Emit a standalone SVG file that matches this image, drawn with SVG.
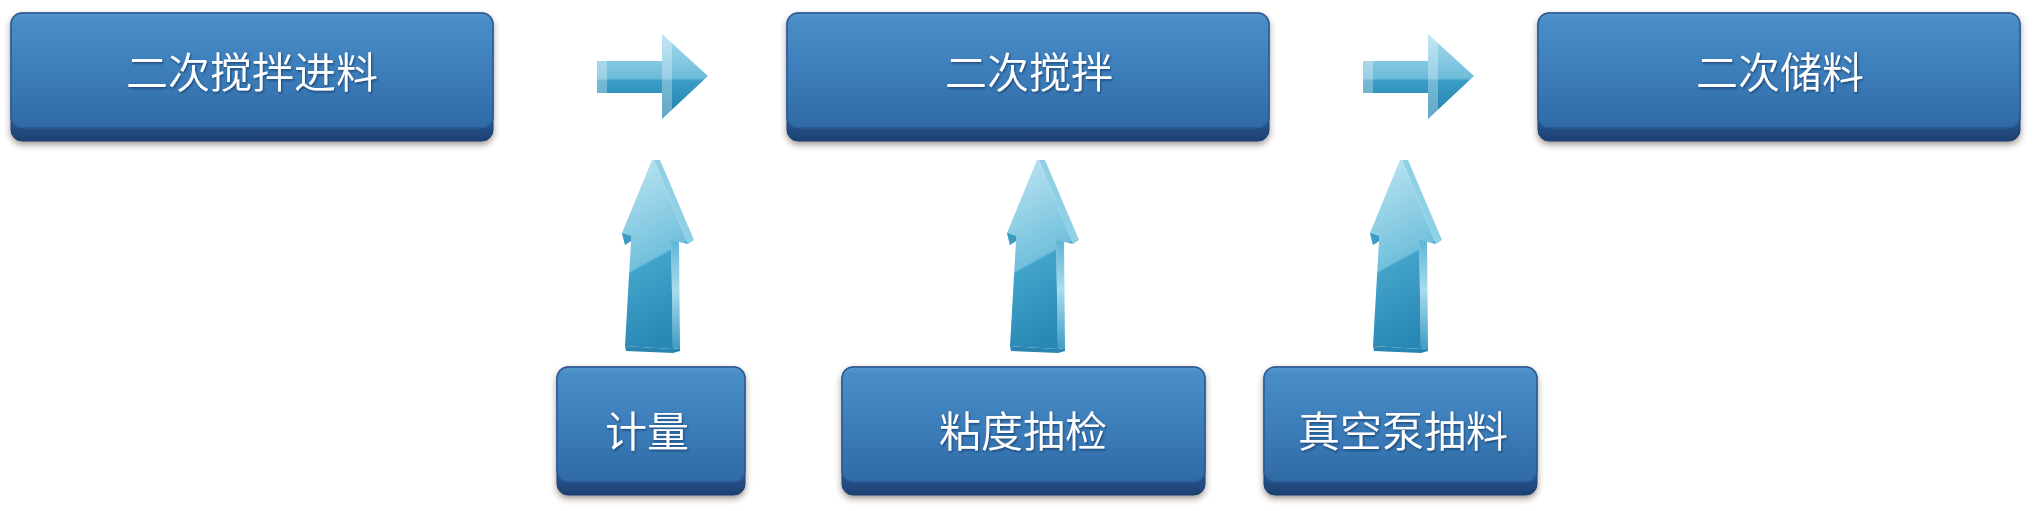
<svg xmlns="http://www.w3.org/2000/svg" xmlns:xlink="http://www.w3.org/1999/xlink" width="2044" height="511" viewBox="0 0 2044 511">
  <defs>
    <style>
      .face { fill: url(#faceGrad); stroke: #2a5892; stroke-width: 1.4; }
      .base { fill: url(#baseGrad); stroke: #1f4274; stroke-width: 1; filter: url(#boxShadow); }
      .label { font-family: "Noto Sans CJK SC", "Noto Sans", sans-serif; font-size: 42px; font-weight: 350; fill: #ffffff; text-anchor: middle; filter: url(#textShadow); }
    </style>
    <linearGradient id="faceGrad" x1="0" y1="0" x2="0" y2="1">
      <stop offset="0" stop-color="#5497cd"/>
      <stop offset="0.06" stop-color="#498dc6"/>
      <stop offset="0.5" stop-color="#3d7eba"/>
      <stop offset="1" stop-color="#2f6aa5"/>
    </linearGradient>
    <linearGradient id="baseGrad" x1="0" y1="0" x2="0" y2="1">
      <stop offset="0" stop-color="#2c5d98"/>
      <stop offset="0.85" stop-color="#27558c"/>
      <stop offset="1" stop-color="#1d4072"/>
    </linearGradient>
    <filter id="boxShadow" x="-5%" y="-10%" width="110%" height="130%">
      <feDropShadow dx="0" dy="3" stdDeviation="3" flood-color="#3a2a1a" flood-opacity="0.5"/>
    </filter>
    <filter id="textShadow" x="-10%" y="-20%" width="120%" height="150%">
      <feDropShadow dx="1" dy="1.5" stdDeviation="0.8" flood-color="#173763" flood-opacity="0.75"/>
    </filter>
    <linearGradient id="rArrowGrad" gradientUnits="userSpaceOnUse" x1="0" y1="0" x2="0" y2="85">
      <stop offset="0" stop-color="#a9dcee"/>
      <stop offset="0.52" stop-color="#6dbcd9"/>
      <stop offset="0.55" stop-color="#3a9cc5"/>
      <stop offset="1" stop-color="#2380ab"/>
    </linearGradient>
    <linearGradient id="uArrowGrad" gradientUnits="userSpaceOnUse" x1="-40" y1="20" x2="40" y2="166">
      <stop offset="0" stop-color="#b5e1f0"/>
      <stop offset="0.53" stop-color="#72c0dc"/>
      <stop offset="0.545" stop-color="#42a3ca"/>
      <stop offset="1" stop-color="#2887b4"/>
    </linearGradient>
    <linearGradient id="uSideGrad" gradientUnits="userSpaceOnUse" x1="0" y1="80" x2="0" y2="190">
      <stop offset="0" stop-color="#5fb4d6"/>
      <stop offset="0.45" stop-color="#a8dcee"/>
      <stop offset="1" stop-color="#3c9cc4"/>
    </linearGradient>
    <g id="arrowRight">
      <path d="M0,27 L65,27 L65,0 L111,42 L65,85 L65,59 L0,59 Z" fill="url(#rArrowGrad)"/>
      <path d="M0,27 L10,27 L10,59 L0,59 Z" fill="#ffffff" fill-opacity="0.3"/>
      <path d="M65,0 L75,9 L75,76 L65,85 Z" fill="#ffffff" fill-opacity="0.3"/>
    </g>
    <g id="arrowUp">
      <path d="M-27,186 L21,189 L28,188 L28,191 L21,193 L-26,191 Z" fill="#2a86b0"/>
      <path d="M2,0 L8,0 L42,80 L36,84 Z" fill="#8fd0e6"/>
      <path d="M19,80 L27,80 L28,188 L21,189 Z" fill="url(#uSideGrad)"/>
      <path d="M0,0 L-30,73 L-27,85 L-21,81 L-27,186 L21,189 L19,80 L36,84 L2,0 Z" fill="url(#uArrowGrad)"/>
      <path d="M-30,73 L-27,85 L-21,81 L-21,76 Z" fill="#3b9bc3"/>
    </g>
  </defs>

  <rect x="0" y="0" width="2044" height="511" fill="#ffffff"/>

  <g id="connectors">
    <use xlink:href="#arrowRight" href="#arrowRight" transform="translate(597,34)"/>
    <use xlink:href="#arrowRight" href="#arrowRight" transform="translate(1363,34)"/>
    <use xlink:href="#arrowUp" href="#arrowUp" transform="translate(652,160)"/>
    <use xlink:href="#arrowUp" href="#arrowUp" transform="translate(1037,160)"/>
    <use xlink:href="#arrowUp" href="#arrowUp" transform="translate(1400,160)"/>
  </g>

  <g id="node-feed">
    <rect class="base" x="11" y="13" width="482" height="128" rx="11"/>
    <rect class="face" x="11" y="13" width="482" height="115" rx="11"/>
    <text class="label" x="252" y="88">二次搅拌进料</text>
  </g>
  <g id="node-mix">
    <rect class="base" x="787" y="13" width="482" height="128" rx="11"/>
    <rect class="face" x="787" y="13" width="482" height="115" rx="11"/>
    <text class="label" x="1029" y="88">二次搅拌</text>
  </g>
  <g id="node-store">
    <rect class="base" x="1538" y="13" width="482" height="128" rx="11"/>
    <rect class="face" x="1538" y="13" width="482" height="115" rx="11"/>
    <text class="label" x="1780" y="88">二次储料</text>
  </g>
  <g id="node-measure">
    <rect class="base" x="557" y="367" width="188" height="128" rx="11"/>
    <rect class="face" x="557" y="367" width="188" height="115" rx="11"/>
    <text class="label" x="647" y="447">计量</text>
  </g>
  <g id="node-viscosity">
    <rect class="base" x="842" y="367" width="363" height="128" rx="11"/>
    <rect class="face" x="842" y="367" width="363" height="115" rx="11"/>
    <text class="label" x="1023" y="447">粘度抽检</text>
  </g>
  <g id="node-vacuum">
    <rect class="base" x="1264" y="367" width="273" height="128" rx="11"/>
    <rect class="face" x="1264" y="367" width="273" height="115" rx="11"/>
    <text class="label" x="1403" y="447">真空泵抽料</text>
  </g>
</svg>
